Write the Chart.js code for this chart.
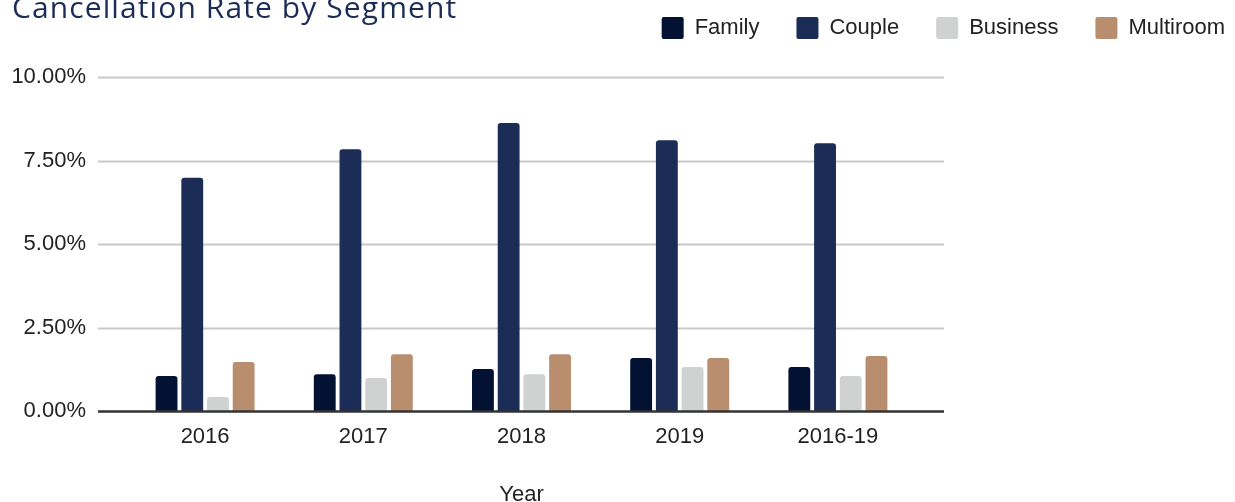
<!DOCTYPE html>
<html>
<head>
<meta charset="utf-8">
<title>Cancellation Rate by Segment</title>
<script src="https://cdn.jsdelivr.net/npm/chart.js@4"></script>
<style>
  html, body { margin: 0; padding: 0; background: #ffffff; }
  #wrap { position: relative; width: 1235px; height: 502px; overflow: hidden; }
</style>
</head>
<body>
<div id="wrap">
  <canvas id="myChart" width="1235" height="502"></canvas>
</div>
<script>
// data (percent)
var years = ['2016', '2017', '2018', '2019', '2016-19'];
var family    = [1.05, 1.10, 1.26, 1.59, 1.32];
var couple    = [6.98, 7.84, 8.62, 8.11, 8.02];
var business  = [0.42, 0.99, 1.10, 1.32, 1.05];
var multiroom = [1.47, 1.70, 1.70, 1.59, 1.65];
var yTicks = [0, 2.5, 5, 7.5, 10];

var chartTitle = 'Cancellation Rate by Segment';

Chart.defaults.font.family = "'Liberation Sans', Arial, sans-serif";
Chart.defaults.font.size = 22;
Chart.defaults.color = '#222222';

// legend is taller than chart.js makes it, push plot down
var legendHeight = {
    id: 'legendHeight',
    beforeInit: function(chart) {
        var fit = chart.legend.fit;
        chart.legend.fit = function() {
            fit.bind(chart.legend)();
            this.height = 97;
        };
    }
};

// grid lines run a bit wider than the bars area
var wideGrid = {
    id: 'wideGrid',
    beforeDatasetsDraw: function(chart) {
        var ctx = chart.ctx;
        var y = chart.scales.y;
        var left = chart.chartArea.left - 28;
        var right = chart.chartArea.right + 27;
        ctx.save();
        ctx.strokeStyle = '#c9c9c9';
        ctx.lineWidth = 2;
        y.ticks.forEach(function(t) {
            if (t.value == 0) return;
            var py = Math.round(y.getPixelForValue(t.value)) + 0.5;
            ctx.beginPath();
            ctx.moveTo(left, py);
            ctx.lineTo(right, py);
            ctx.stroke();
        });
        ctx.restore();
    },
    afterDatasetsDraw: function(chart) {
        var ctx = chart.ctx;
        var y = chart.scales.y;
        var py = Math.round(y.getPixelForValue(0)) + 0.5;
        ctx.save();
        ctx.strokeStyle = '#333333';
        ctx.lineWidth = 2.5;
        ctx.beginPath();
        ctx.moveTo(chart.chartArea.left - 28, py);
        ctx.lineTo(chart.chartArea.right + 27, py);
        ctx.stroke();
        ctx.restore();
    }
};

// title sits at the very top, cut off a little
var topTitle = {
    id: 'topTitle',
    afterDraw: function(chart) {
        var ctx = chart.ctx;
        ctx.save();
        ctx.font = "30px 'Open Sans', sans-serif";
        ctx.fillStyle = '#1b2d57';
        ctx.textBaseline = 'alphabetic';
        ctx.textAlign = 'left';
        ctx.letterSpacing = '1.1px';
        ctx.fillText(chartTitle, 12, 18);
        ctx.restore();
    }
};

function MyChart() {
    var ctx = document.getElementById('myChart').getContext('2d');
    var myChart = new Chart(ctx, {
        type: 'bar',
        data: {
            labels: years,
            datasets: [{
                label: 'Family',
                data: family,
                backgroundColor: '#031232'
            }, {
                label: 'Couple',
                data: couple,
                backgroundColor: '#1b2d57'
            }, {
                label: 'Business',
                data: business,
                backgroundColor: '#d0d2d1'
            }, {
                label: 'Multiroom',
                data: multiroom,
                backgroundColor: '#b98e6f'
            }]
        },
        options: {
            responsive: false,
            animation: false,
            devicePixelRatio: 1,
            categoryPercentage: 0.65,
            barPercentage: 0.85,
            borderRadius: 3,
            layout: { padding: { top: -20, right: -27, left: 0, bottom: 0 } },
            plugins: {
                legend: {
                    position: 'top',
                    align: 'end',
                    labels: {
                        boxWidth: 22,
                        boxHeight: 22,
                        padding: 37,
                        color: '#222222',
                        font: { size: 22 },
                        generateLabels: function(chart) {
                            var items = Chart.defaults.plugins.legend.labels.generateLabels(chart);
                            items.forEach(function(it) { it.borderRadius = 2; it.lineWidth = 0; });
                            return items;
                        }
                    }
                },
                tooltip: { enabled: false }
            },
            scales: {
                x: {
                    grid: { display: false },
                    border: { display: false },
                    ticks: { padding: 5, color: '#222222' },
                    title: {
                        display: true,
                        text: 'Year',
                        color: '#222222',
                        font: { size: 22 },
                        padding: { top: 0, bottom: -6 }
                    },
                    afterFit: function(s) { s.height = 91; }
                },
                y: {
                    min: 0,
                    max: 10,
                    afterBuildTicks: function(s) {
                        s.ticks = yTicks.map(function(v) { return { value: v }; });
                    },
                    grid: { display: false, drawTicks: false },
                    border: { display: false },
                    ticks: {
                        padding: 40,
                        color: '#222222',
                        callback: function(v) { return v.toFixed(2) + '%'; }
                    },
                    afterFit: function(s) { s.width = 126; }
                },
                yRight: {
                    type: 'linear',
                    position: 'right',
                    display: true,
                    grid: { display: false },
                    border: { display: false },
                    ticks: { display: false },
                    afterFit: function(s) { s.width = 345; }
                }
            }
        },
        plugins: [legendHeight, wideGrid, topTitle]
    });
}

MyChart();
</script>
</body>
</html>
